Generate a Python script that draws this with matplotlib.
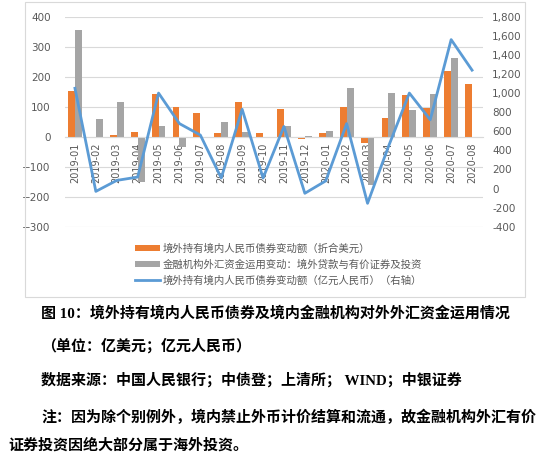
import numpy as np
import matplotlib
matplotlib.use('Agg')
import matplotlib.pyplot as plt
from matplotlib.patches import Rectangle
from matplotlib.ticker import FuncFormatter

plt.rcParams['font.family'] = ['DejaVu Sans', 'Noto Sans CJK SC']

# data
months = ['2019-01', '2019-02', '2019-03', '2019-04', '2019-05', '2019-06', '2019-07',
          '2019-08', '2019-09', '2019-10', '2019-11', '2019-12', '2020-01', '2020-02',
          '2020-03', '2020-04', '2020-05', '2020-06', '2020-07', '2020-08']
bond_usd = [153, -3, 7, 16, 143, 100, 80, 11, 117, 11, 92, -6, 13, 100, -20, 61, 139, 97, 220, 176]
fx_use = [356, 58, 115, -150, 37, -33, -3, 50, 17, -3, 36, 4, 20, 164, -160, 147, 89, 144, 261, np.nan]
bond_cny = [1050, -30, 85, 120, 1000, 680, 560, 110, 830, 110, 650, -50, 80, 680, -155, 440,
            1000, 720, 1560, 1240]

left_ticks = [400, 300, 200, 100, 0, -100, -200, -300]
right_ticks = [1800, 1600, 1400, 1200, 1000, 800, 600, 400, 200, 0, -200, -400]

label_bond_usd = '境外持有境内人民币债券变动额（折合美元）'
label_fx_use = '金融机构外汇资金运用变动：境外贷款与有价证券及投资'
label_bond_cny = '境外持有境内人民币债券变动额（亿元人民币）（右轴）'

captions = [
    (41, 313, '图 10：境外持有境内人民币债券及境内金融机构对外外汇资金运用情况'),
    (41, 346, '（单位：亿美元；亿元人民币）'),
    (41, 380, '数据来源：中国人民银行；中债登；上清所； WIND；中银证券'),
    (41, 417, '注：因为除个别例外，境内禁止外币计价结算和流通，故金融机构外汇有价'),
    (8, 445, '证券投资因绝大部分属于海外投资。'),
]

W, H = 550, 474
fig = plt.figure(figsize=(W / 100, H / 100), dpi=100)
fig.patch.set_facecolor('white')

# chart frame
fig.patches.append(Rectangle((25 / W, 1 - 297 / H), 500 / W, 295 / H, transform=fig.transFigure,
                             fill=False, edgecolor='#d9d9d9', linewidth=0.8))

ax = fig.add_axes([64.5 / W, 1 - 226.7 / H, 418 / W, 210 / H])
x = np.arange(len(months))
w = 0.33
b1 = ax.bar(x - w / 2, bond_usd, w, color='#ed7d31', label=label_bond_usd, zorder=2)
b2 = ax.bar(x + w / 2, fx_use, w, color='#a5a5a5', label=label_fx_use, zorder=2)
ax.set_ylim(-300, 400)
ax.set_xlim(-0.5, len(months) - 0.5)
ax.set_yticks(left_ticks)
ax.grid(axis='y', color='#d9d9d9', linewidth=0.8)
ax.set_axisbelow(True)
for s in ['top', 'left', 'right']:
    ax.spines[s].set_visible(False)
ax.spines['bottom'].set_position(('data', 0))
ax.spines['bottom'].set_color('#d9d9d9')
ax.set_xticks(x)
ax.set_xticklabels(months, rotation=90, fontsize=7, color='#595959')
ax.tick_params(axis='both', length=0)
ax.tick_params(axis='x', pad=4)
ax.tick_params(axis='y', labelsize=7.5, labelcolor='#595959', pad=10)

ax2 = ax.twinx()
l1, = ax2.plot(x, bond_cny, color='#5b9bd5', linewidth=2, label=label_bond_cny, zorder=3)
ax2.set_ylim(-400, 1800)
ax2.set_yticks(right_ticks)
ax2.yaxis.set_major_formatter(FuncFormatter(lambda v, p: f'{int(v):,}'))
ax2.tick_params(axis='y', length=0, labelsize=7.5, labelcolor='#595959', pad=7)
for s in ['top', 'left', 'right', 'bottom']:
    ax2.spines[s].set_visible(False)

leg = fig.legend(handles=[b1, b2, l1], loc='upper left', bbox_to_anchor=(135 / W, 1 - 243 / H),
                 frameon=False, handlelength=2.4, handleheight=0.5,
                 handletextpad=0.3, labelspacing=0.55, borderpad=0, borderaxespad=0,
                 prop={'family': ['Noto Sans CJK SC'], 'size': 7.5})
for t in leg.get_texts():
    t.set_color('#595959')

for cx, cy, s in captions:
    fig.text(cx / W, 1 - cy / H, s, fontsize=10.8, va='center', ha='left', color='black',
             family=['Liberation Serif', 'Noto Sans CJK SC'], fontweight='bold')

fig.savefig('out.png', dpi=100, facecolor='white')
